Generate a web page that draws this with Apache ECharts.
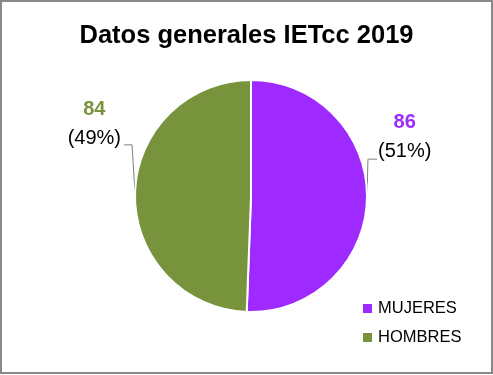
<!DOCTYPE html>
<html>
<head>
<meta charset="utf-8">
<script src="https://cdn.jsdelivr.net/npm/echarts@6/dist/echarts.min.js"></script>
<style>
  html, body { margin: 0; padding: 0; background: #fff; }
  #chart { width: 493px; height: 374px; box-sizing: border-box; border: 2px solid #898989; }
</style>
</head>
<body>
<div id="chart"></div>
<script>
var categories = ['MUJERES', 'HOMBRES'];
var values = [86, 84];
var colors = ['#9E2AFF', '#77933C'];

var total = values.reduce(function (a, b) { return a + b }, 0);

var chart = echarts.init(document.getElementById('chart'));

chart.setOption({
  title: {
    text: 'Datos generales IETcc 2019',
    left: 'center',
    top: 16,
    textStyle: {
      fontFamily: 'Liberation Sans',
      fontSize: 25.5,
      fontWeight: 'bold',
      color: '#000'
    }
  },
  legend: {
    orient: 'vertical',
    left: 359,
    top: 298,
    padding: 0,
    icon: 'rect',
    itemWidth: 11,
    itemHeight: 11,
    itemGap: 12,
    data: categories,
    textStyle: {
      fontFamily: 'Liberation Sans',
      fontSize: 16.5,
      lineHeight: 17,
      color: '#000'
    }
  },
  series: [{
    type: 'pie',
    center: [249, 194],
    radius: 116,
    startAngle: 90,
    clockwise: true,
    animation: false,
    itemStyle: {
      borderColor: '#fff',
      borderWidth: 2
    },
    data: categories.map(function (name, i) {
      return {
        name: name,
        value: values[i],
        itemStyle: { color: colors[i] },
        label: {
          rich: {
            v: { color: colors[i], fontWeight: 'bold' }
          }
        }
      }
    }),
    label: {
      show: true,
      position: 'outside',
      fontFamily: 'Liberation Sans',
      fontSize: 20,
      formatter: function (p) {
        var pct = Math.round(p.value / total * 100);
        return '{v|' + p.value + '}\n{p|(' + pct + '%)}';
      },
      rich: {
        v: { fontSize: 20, lineHeight: 29, align: 'center', fontFamily: 'Liberation Sans', fontWeight: 'bold' },
        p: { fontSize: 20, lineHeight: 29, align: 'center', fontFamily: 'Liberation Sans', color: '#000' }
      }
    },
    labelLine: {
      show: true,
      length: 5,
      length2: 5,
      lineStyle: { color: '#7f7f7f', width: 1 }
    },
    labelLayout: function (params) {
      var s = params.labelLinePoints[0];
      if (params.dataIndex === 0) {
        return {
          x: s[0] + 11,
          y: s[1] - 90,
          align: 'left',
          verticalAlign: 'top',
          labelLinePoints: [s, [s[0] + 1, s[1] - 39], [s[0] + 10, s[1] - 39]]
        };
      }
      return {
        x: s[0] - 14,
        y: s[1] - 99,
        align: 'right',
        verticalAlign: 'top',
        labelLinePoints: [s, [s[0] - 3, s[1] - 49], [s[0] - 11, s[1] - 49]]
      };
    }
  }]
});
</script>
</body>
</html>
